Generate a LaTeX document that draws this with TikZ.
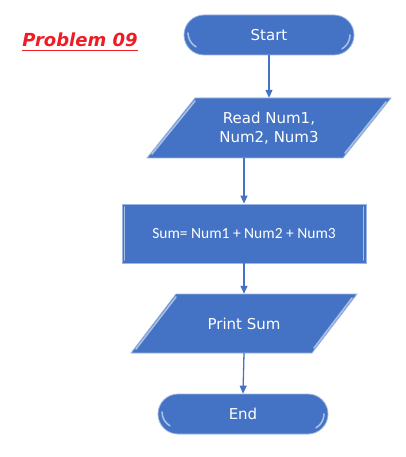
\documentclass[tikz,border=0pt]{standalone}
\usepackage{fontspec}
\setmainfont{DejaVu Sans}
\newfontfamily\calib{Carlito}
\usetikzlibrary{shapes.misc,arrows.meta}
\definecolor{fcblue}{HTML}{4472C4}
\definecolor{fcedge}{HTML}{9DB5E2}
\definecolor{ttlred}{HTML}{EE1C25}
\tikzset{
  base/.style={fill=fcblue, draw=fcedge, line width=0.8pt, text=white, align=center, inner sep=0pt},
  term/.style={base, rounded rectangle, minimum width=170pt, minimum height=40pt, font=\fontsize{15}{18}\selectfont},
  procbox/.style={base, rectangle, minimum width=244pt, minimum height=59pt, font=\calib\fontsize{15.5}{18}\selectfont},
  iotext/.style={text=white, align=center, inner sep=0pt, rectangle, font=\fontsize{15}{19}\selectfont},
  ioshape/.style={fill=fcblue, draw=fcedge, line width=0.8pt, line join=miter},
  hilite/.style={draw=white, line width=1.6pt, opacity=0.55, line cap=round},
  arr/.style={draw=fcblue, line width=1.3pt, -{Triangle[length=8pt,width=7pt]}}
}
\begin{document}
\begin{tikzpicture}[x=1pt,y=-1pt]
\useasboundingbox (0,0) rectangle (405,457);
\node[text=ttlred, font=\bfseries\itshape\fontsize{18}{20}\selectfont, inner sep=0pt] (title) at (80,40) {Problem 09};
\draw[ttlred, line width=1.5pt] (title.south west |- 0,50.5) -- (title.south east |- 0,50.5);
% Start
\node[term] (start) at (269,35) {Start};
\draw[hilite] (188,33) arc[start angle=180, end angle=120, radius=16];
\draw[hilite] (350,35) arc[start angle=0, end angle=60, radius=16];
% Read parallelogram
\draw[ioshape] (147,158) -- (195,98) -- (391,98) -- (343,158) -- cycle;
\draw[hilite] (152,154) -- (195,101);
\draw[hilite] (386,102) -- (345,153);
\node[iotext, minimum width=200pt, minimum height=60pt] (read) at (269,128) {Read Num1,\\Num2, Num3};
% Sum
\node[procbox] (sum) at (244,233.5) {Sum= Num1 + Num2 + Num3};
\draw[hilite] (124.5,207) -- (124.5,260);
\draw[hilite] (363.5,207) -- (363.5,260);
% Print parallelogram
\draw[ioshape] (131,353) -- (176,294) -- (357,294) -- (312,353) -- cycle;
\draw[hilite] (136,349) -- (176,297);
\draw[hilite] (352,298) -- (314,348);
\node[iotext, minimum width=180pt, minimum height=59pt] (print) at (244,323.5) {Print Sum};
% End
\node[term] (end) at (243,414) {End};
\draw[hilite] (162,412) arc[start angle=180, end angle=120, radius=16];
\draw[hilite] (324,414) arc[start angle=0, end angle=60, radius=16];
% connectors
\draw[arr] (start.south) -- (start.south |- read.north);
\draw[arr] (sum.north |- read.south) -- (sum.north);
\draw[arr] (sum.south) -- (sum.south |- print.north);
\draw[arr] (print.south) -- (end.north);
\end{tikzpicture}
\end{document}
